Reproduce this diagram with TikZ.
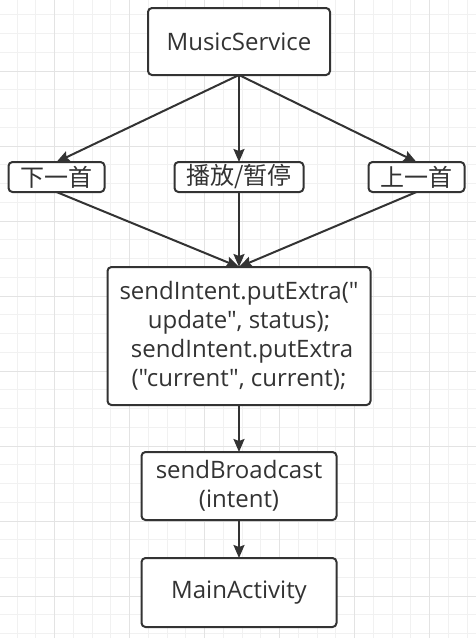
\documentclass[tikz,border=0pt]{standalone}
\usepackage{fontspec}
\usepackage{xcolor}
\usepackage{tikz}
\usetikzlibrary{positioning,arrows.meta}
\setmainfont{Open Sans}[Ligatures=TeXOff]
\newfontfamily\cjk{Noto Sans CJK SC}
\definecolor{ink}{HTML}{333333}
\definecolor{gridlo}{HTML}{F1F1F1}
\definecolor{gridhi}{HTML}{E3E3E3}
\tikzset{
  flowbox/.style={draw=ink, line width=2pt, rounded corners=4pt, fill=white, text=ink,
    align=center, inner sep=2pt, outer sep=0pt, font=\fontsize{24}{29}\selectfont},
  keybox/.style={flowbox, minimum height=30pt, font=\fontsize{24}{29}\selectfont\cjk},
  flow/.style={draw=ink, line width=2pt, -{Stealth[length=13pt,width=11pt,inset=2pt]}},
}
\begin{document}
\begin{tikzpicture}[x=1pt, y=-1pt, node distance=1cm]
    \useasboundingbox (0,0) rectangle (476,638);

    % Grid
    \foreach \k in {0,...,25} \draw[gridlo, line width=1pt] ({17+18.75*\k},0) -- ++(0,638);
    \foreach \k in {0,...,34} \draw[gridlo, line width=1pt] (0,{14.75+18.75*\k}) -- ++(476,0);
    \foreach \k in {0,...,5} \draw[gridhi, line width=1pt] ({54.5+75*\k},0) -- ++(0,638);
    \foreach \k in {0,...,7} \draw[gridhi, line width=1pt] (0,{71+75*\k}) -- ++(476,0);

    % Service
    \node[flowbox, minimum width=182pt, minimum height=67pt] (music) at (239,41.5) {MusicService};

    % Controls
    \node[keybox, minimum width=129pt, below=87pt of music] (play) {播放/暂停};
    \node[keybox, minimum width=96pt, left=70pt of play] (next) {下一首};
    \node[keybox, minimum width=96pt, right=65pt of play] (prev) {上一首};

    % Broadcast
    \node[flowbox, minimum width=263pt, minimum height=138pt, below=75pt of play] (extra)
        {sendIntent.putExtra("\\update", status);\\\ sendIntent.putExtra\\("current", current);};
    \node[flowbox, minimum width=195pt, minimum height=68pt, below=47pt of extra] (bcast) {sendBroadcast\\(intent)};
    \node[flowbox, minimum width=195pt, minimum height=69pt, below=38pt of bcast] (main) {MainActivity};

    % Edges
    \draw[flow] (music.south) -- (next.north);
    \draw[flow] (music.south) -- (play.north);
    \draw[flow] (music.south) -- (prev.north);
    \draw[flow] (next.south) -- (extra.north);
    \draw[flow] (play.south) -- (extra.north);
    \draw[flow] (prev.south) -- (extra.north);
    \draw[flow] (extra) -- (bcast);
    \draw[flow] (bcast) -- (main);
\end{tikzpicture}
\end{document}
